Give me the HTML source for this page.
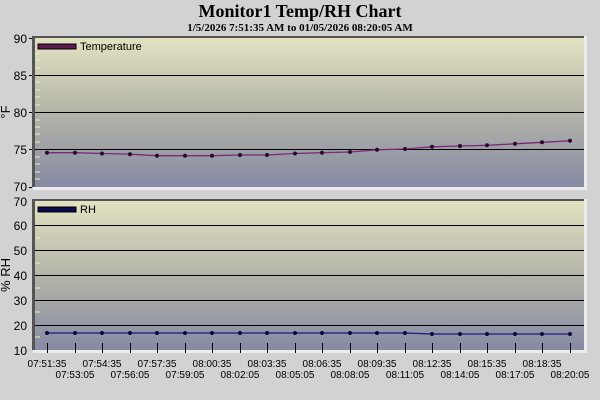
<!DOCTYPE html><html><head><style>html,body{margin:0;padding:0;overflow:hidden;background:#d4d4d4}svg{display:block}</style></head><body>
<svg width="600" height="400" xmlns="http://www.w3.org/2000/svg" font-family="Liberation Sans, sans-serif">
<defs><linearGradient id="g" x1="0" y1="0" x2="0" y2="1"><stop offset="0" stop-color="#e2e2c2"/><stop offset="0.5" stop-color="#b4b4a8"/><stop offset="1" stop-color="#868aa4"/></linearGradient></defs>
<rect width="600" height="400" fill="#d2d2d2"/>
<text x="300" y="17" text-anchor="middle" font-family="Liberation Serif, serif" font-weight="bold" font-size="18">Monitor1 Temp/RH Chart</text>
<text x="300" y="31" text-anchor="middle" font-family="Liberation Serif, serif" font-weight="bold" font-size="11">1/5/2026 7:51:35 AM to 01/05/2026 08:20:05 AM</text>
<rect x="33" y="36" width="554" height="154" fill="#ececec"/>
<rect x="32" y="36" width="552" height="151" fill="#555"/>
<rect x="35" y="38" width="549" height="149" fill="url(#g)"/>
<g stroke="#000" stroke-width="1"><line x1="35" y1="75.5" x2="584" y2="75.5"/><line x1="35" y1="112.5" x2="584" y2="112.5"/><line x1="35" y1="149.5" x2="584" y2="149.5"/></g>
<g stroke="#eeeebb" stroke-width="1"><path d="M35 53h5M35 60h5M35 68h5M35 82h5M35 90h5M35 97h5M35 105h5M35 120h5M35 127h5M35 134h5M35 142h5M35 157h5M35 164h5M35 172h5M35 179h5"/></g>
<g font-size="12" text-anchor="end" fill="#000"><text x="27" y="43">90</text><text x="27" y="80">85</text><text x="27" y="117">80</text><text x="27" y="154">75</text><text x="27" y="191">70</text></g>
<g stroke="#000"><path d="M29 38.5h3M29 75.5h3M29 112.5h3M29 149.5h3M29 187.5h3"/></g>
<text x="10" y="112" font-size="13" transform="rotate(-90 10 112)" text-anchor="middle">°F</text>
<rect x="38" y="44" width="38" height="5" fill="#5a1a50" stroke="#000"/>
<text x="80" y="50" font-size="11">Temperature</text>
<polyline fill="none" stroke="#7a2a7a" stroke-width="1.3" points="47,152.7 75,152.7 102,153.5 130,154.2 157,155.7 185,155.7 212,155.7 240,155 267,155 295,153.5 322,152.7 350,152 377,149.8 405,149 432,146.8 460,146 487,145.3 515,143.8 542,142.3 570,140.8"/>
<g fill="#2a0a2a"><circle cx="47" cy="152.7" r="2"/><circle cx="75" cy="152.7" r="2"/><circle cx="102" cy="153.5" r="2"/><circle cx="130" cy="154.2" r="2"/><circle cx="157" cy="155.7" r="2"/><circle cx="185" cy="155.7" r="2"/><circle cx="212" cy="155.7" r="2"/><circle cx="240" cy="155" r="2"/><circle cx="267" cy="155" r="2"/><circle cx="295" cy="153.5" r="2"/><circle cx="322" cy="152.7" r="2"/><circle cx="350" cy="152" r="2"/><circle cx="377" cy="149.8" r="2"/><circle cx="405" cy="149" r="2"/><circle cx="432" cy="146.8" r="2"/><circle cx="460" cy="146" r="2"/><circle cx="487" cy="145.3" r="2"/><circle cx="515" cy="143.8" r="2"/><circle cx="542" cy="142.3" r="2"/><circle cx="570" cy="140.8" r="2"/></g>
<rect x="33" y="199" width="554" height="154" fill="#ececec"/>
<rect x="32" y="199" width="552" height="151" fill="#555"/>
<rect x="35" y="201" width="549" height="149" fill="url(#g)"/>
<g stroke="#000"><path d="M35 225.5h549M35 250.5h549M35 275.5h549M35 300.5h549M35 325.5h549"/></g>
<g stroke="#eeeebb"><path d="M35 213h5M35 238h5M35 263h5M35 288h5M35 312h5M35 337h5"/></g>
<g font-size="12" text-anchor="end"><text x="27" y="206">70</text><text x="27" y="230">60</text><text x="27" y="255">50</text><text x="27" y="280">40</text><text x="27" y="305">30</text><text x="27" y="330">20</text><text x="27" y="355">10</text></g>
<text x="10" y="275" font-size="13" transform="rotate(-90 10 275)" text-anchor="middle">% RH</text>
<rect x="38" y="207" width="38" height="5" fill="#0a0a50" stroke="#000"/>
<text x="80" y="213" font-size="11">RH</text>
<polyline fill="none" stroke="#1a1a80" stroke-width="1.3" points="47,333 75,333 102,333 130,333 157,333 185,333 212,333 240,333 267,333 295,333 322,333 350,333 377,333 405,333 432,334 460,334 487,334 515,334 542,334 570,334"/>
<g fill="#0a0a40"><circle cx="47" cy="333" r="2"/><circle cx="75" cy="333" r="2"/><circle cx="102" cy="333" r="2"/><circle cx="130" cy="333" r="2"/><circle cx="157" cy="333" r="2"/><circle cx="185" cy="333" r="2"/><circle cx="212" cy="333" r="2"/><circle cx="240" cy="333" r="2"/><circle cx="267" cy="333" r="2"/><circle cx="295" cy="333" r="2"/><circle cx="322" cy="333" r="2"/><circle cx="350" cy="333" r="2"/><circle cx="377" cy="333" r="2"/><circle cx="405" cy="333" r="2"/><circle cx="432" cy="334" r="2"/><circle cx="460" cy="334" r="2"/><circle cx="487" cy="334" r="2"/><circle cx="515" cy="334" r="2"/><circle cx="542" cy="334" r="2"/><circle cx="570" cy="334" r="2"/></g>
<g stroke="#000"><path d="M47.5 343v10M75.5 343v10M102.5 343v10M130.5 343v10M157.5 343v10M185.5 343v10M212.5 343v10M240.5 343v10M267.5 343v10M295.5 343v10M322.5 343v10M350.5 343v10M377.5 343v10M405.5 343v10M432.5 343v10M460.5 343v10M487.5 343v10M515.5 343v10M542.5 343v10M570.5 343v10"/></g>
<g font-size="10" text-anchor="middle"><text x="47" y="367">07:51:35</text><text x="102" y="367">07:54:35</text><text x="157" y="367">07:57:35</text><text x="212" y="367">08:00:35</text><text x="267" y="367">08:03:35</text><text x="322" y="367">08:06:35</text><text x="377" y="367">08:09:35</text><text x="432" y="367">08:12:35</text><text x="487" y="367">08:15:35</text><text x="542" y="367">08:18:35</text>
<text x="75" y="378">07:53:05</text><text x="130" y="378">07:56:05</text><text x="185" y="378">07:59:05</text><text x="240" y="378">08:02:05</text><text x="295" y="378">08:05:05</text><text x="350" y="378">08:08:05</text><text x="405" y="378">08:11:05</text><text x="460" y="378">08:14:05</text><text x="515" y="378">08:17:05</text><text x="570" y="378">08:20:05</text></g>
</svg></body></html>
